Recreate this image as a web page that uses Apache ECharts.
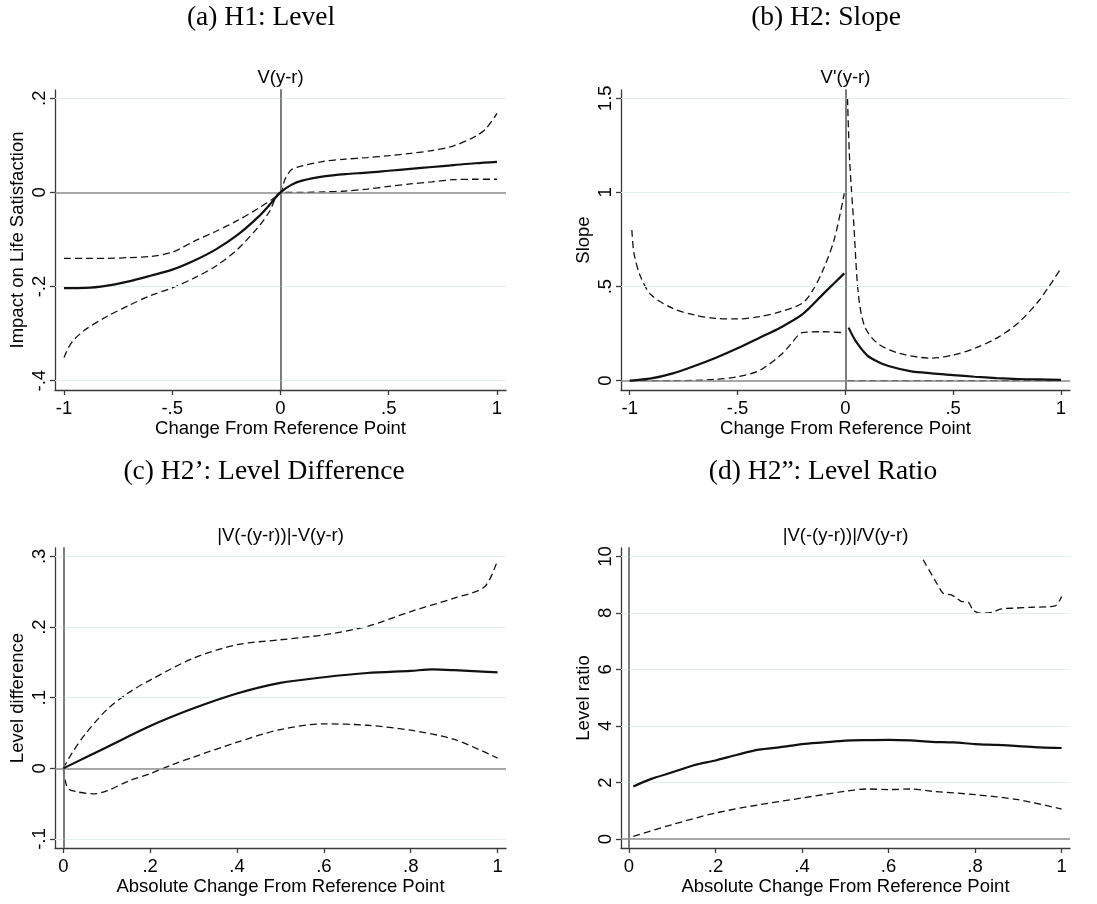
<!DOCTYPE html>
<html><head><meta charset="utf-8">
<script src="https://cdn.jsdelivr.net/npm/echarts@6/dist/echarts.min.js"></script>
<style>html,body{margin:0;padding:0;background:#fff}#c{width:1097px;height:904px}</style>
</head><body><div id="c"></div>
<script>
// ---------- Panel (a): V(y-r) ----------
const aEstX = [-1,-0.9,-0.8,-0.7,-0.6,-0.5,-0.4,-0.3,-0.2,-0.1,-0.05,0,0.05,0.1,0.2,0.3,0.4,0.5,0.6,0.7,0.8,0.9,1];
const aEst  = [-0.2035,-0.203,-0.198,-0.189,-0.177,-0.164,-0.145,-0.1215,-0.091,-0.051,-0.026,0,0.016,0.025,0.034,0.039,0.042,0.046,0.050,0.054,0.058,0.062,0.065];
const aUpX  = [-1,-0.9,-0.8,-0.7,-0.6,-0.5,-0.4,-0.3,-0.2,-0.1,0,0.02,0.05,0.1,0.2,0.3,0.4,0.5,0.6,0.7,0.8,0.9,0.95,1];
const aUp   = [-0.140,-0.140,-0.140,-0.1385,-0.136,-0.127,-0.104,-0.083,-0.060,-0.033,0,0.027,0.048,0.0565,0.066,0.0707,0.074,0.078,0.083,0.089,0.099,0.119,0.136,0.168];
const aLoX  = [-1,-0.98,-0.95,-0.9,-0.8,-0.7,-0.6,-0.5,-0.4,-0.3,-0.2,-0.1,-0.05,0,0.1,0.2,0.3,0.4,0.5,0.6,0.7,0.8,0.9,1];
const aLo   = [-0.351,-0.330,-0.311,-0.291,-0.263,-0.240,-0.219,-0.203,-0.182,-0.157,-0.1215,-0.072,-0.040,0,0,0.001,0.003,0.007,0.0127,0.018,0.0226,0.027,0.028,0.028];

// ---------- Panel (b): V'(y-r) ----------
const bEstLX = [-1,-0.9,-0.8,-0.7,-0.6,-0.5,-0.4,-0.3,-0.2,-0.1,-0.005];
const bEstL  = [0,0.012,0.039,0.078,0.122,0.172,0.227,0.283,0.352,0.464,0.570];
const bEstRX = [0.015,0.05,0.1,0.15,0.2,0.3,0.4,0.5,0.6,0.7,0.8,0.9,1];
const bEstR  = [0.282,0.207,0.136,0.101,0.078,0.051,0.039,0.030,0.021,0.014,0.009,0.007,0.004];
const bUpLX  = [-0.99,-0.98,-0.95,-0.9,-0.8,-0.7,-0.6,-0.5,-0.4,-0.3,-0.2,-0.15,-0.1,-0.05,-0.005];
const bUpL   = [0.80,0.676,0.553,0.455,0.384,0.349,0.331,0.328,0.340,0.367,0.411,0.482,0.597,0.756,0.995];
const bUpRX  = [0.01,0.02,0.04,0.06,0.09,0.15,0.25,0.4,0.5,0.6,0.7,0.8,0.9,1];
const bUpR   = [1.5,1.17,0.818,0.464,0.287,0.198,0.145,0.12,0.136,0.172,0.225,0.305,0.4285,0.597];
const bLoLX  = [-1,-0.8,-0.6,-0.5,-0.4,-0.3,-0.25,-0.2,-0.1,-0.005];
const bLoL   = [0,0,0.007,0.021,0.053,0.136,0.198,0.255,0.260,0.255];
const bLoRX  = [0.01,0.5,1];
const bLoR   = [0,0,0];

// ---------- Panel (c): |V(-(y-r))|-V(y-r) ----------
const cEstX = [0,0.05,0.1,0.2,0.3,0.4,0.5,0.6,0.7,0.8,0.85,0.9,1];
const cEst  = [0,0.015,0.03,0.060,0.085,0.106,0.121,0.129,0.135,0.138,0.140,0.139,0.136];
const cUpX  = [0,0.02,0.05,0.1,0.15,0.2,0.3,0.4,0.5,0.6,0.7,0.8,0.9,0.97,1];
const cUp   = [0,0.0217,0.048,0.083,0.107,0.125,0.156,0.175,0.182,0.189,0.201,0.222,0.241,0.257,0.295];
const cLoX  = [0,0.01,0.03,0.07,0.1,0.15,0.2,0.25,0.3,0.4,0.5,0.6,0.7,0.8,0.9,1];
const cLo   = [0,-0.028,-0.033,-0.036,-0.032,-0.018,-0.0075,0.005,0.016,0.037,0.055,0.063,0.061,0.054,0.041,0.0146];

// ---------- Panel (d): |V(-(y-r))|/V(y-r) ----------
const dEstX = [0.01,0.05,0.1,0.15,0.2,0.25,0.3,0.35,0.4,0.45,0.5,0.55,0.6,0.65,0.7,0.75,0.8,0.85,0.9,0.95,1];
const dEst  = [1.86,2.12,2.36,2.61,2.78,2.98,3.16,3.25,3.36,3.42,3.48,3.50,3.51,3.49,3.44,3.42,3.36,3.33,3.29,3.24,3.22];
const dUpX  = [0.68,0.711,0.726,0.745,0.757,0.768,0.785,0.795,0.811,0.838,0.861,0.892,0.93,0.985,1];
const dUp   = [9.88,9.06,8.70,8.64,8.53,8.41,8.37,8.11,7.99,8.02,8.14,8.17,8.20,8.25,8.58];
const dLoX  = [0.01,0.1,0.2,0.3,0.4,0.5,0.55,0.6,0.65,0.7,0.8,0.9,1];
const dLo   = [0.09,0.51,0.92,1.21,1.45,1.69,1.77,1.75,1.77,1.69,1.57,1.39,1.06];

// ---------- ticks ----------
const xTicksAB = [-1,-0.5,0,0.5,1];
const xTicksCD = [0,0.2,0.4,0.6,0.8,1];
const yTicksA = [-0.4,-0.2,0,0.2];
const yTicksB = [0,0.5,1,1.5];
const yTicksC = [-0.1,0,0.1,0.2,0.3];
const yTicksD = [0,2,4,6,8,10];

const panelTitles = ['(a) H1: Level','(b) H2: Slope','(c) H2\u2019: Level Difference','(d) H2\u201d: Level Ratio'];
const plotTitles = ['V(y-r)',"V'(y-r)",'|V(-(y-r))|-V(y-r)','|V(-(y-r))|/V(y-r)'];
const yNames = ['Impact on Life Satisfaction','Slope','Level difference','Level ratio'];
const xNames = ['Change From Reference Point','Change From Reference Point','Absolute Change From Reference Point','Absolute Change From Reference Point'];

const SANS = 'Liberation Sans, Arial, sans-serif';
const FS = 18.5;
const fmt = v => { let s = String(+(+v).toFixed(3)); return s.replace(/^(-?)0\./, '$1.'); };
const pairs = (xs, ys) => xs.map((x, i) => [x, ys[i]]);

const grids = [
  {left:55, top:90, width:451, height:300},
  {left:621, top:90, width:449, height:300},
  {left:55, top:548, width:451, height:300},
  {left:621, top:548, width:449, height:300}
];
const xRanges = [[-1.0416,1.0416],[-1.0404,1.0418],[-0.0191,1.0194],[-0.0185,1.0194]];
const yRanges = [[-0.4198,0.2176],[-0.0494,1.544],[-0.1127,0.3119],[-0.318,10.297]];
const xTicks = [xTicksAB,xTicksAB,xTicksCD,xTicksCD];
const yTicks = [yTicksA,yTicksB,yTicksC,yTicksD];

const xAxis = [], yAxis = [], series = [];
const AX = '#3a3a3a';
grids.forEach((g, i) => {
  xAxis.push({
    type:'value', gridIndex:i, min:xRanges[i][0], max:xRanges[i][1],
    name:xNames[i], nameLocation:'middle', nameGap:29,
    nameTextStyle:{fontFamily:SANS, fontSize:FS, color:'#000'},
    axisLine:{show:true, onZero:false, lineStyle:{color:AX, width:1.3}},
    axisTick:{show:true, length:5, customValues:xTicks[i], lineStyle:{color:AX, width:1.3}},
    axisLabel:{customValues:xTicks[i], formatter:fmt, fontFamily:SANS, fontSize:FS, color:'#000', margin:9},
    splitLine:{show:false}
  });
  yAxis.push({
    type:'value', gridIndex:i, min:yRanges[i][0], max:yRanges[i][1],
    name:yNames[i], nameLocation:'middle', nameGap:28,
    nameTextStyle:{fontFamily:SANS, fontSize:FS, color:'#000'},
    axisLine:{show:true, onZero:false, lineStyle:{color:AX, width:1.3}},
    axisTick:{show:true, length:5, customValues:yTicks[i], lineStyle:{color:AX, width:1.3}},
    axisLabel:{customValues:yTicks[i], formatter:fmt, rotate:90, fontFamily:SANS, fontSize:FS, color:'#000', margin:6},
    splitLine:{show:false}
  });
});
// right border axes
grids.forEach((g, i) => {
  yAxis.push({
    type:'value', gridIndex:i, position:'right', min:0, max:1,
    axisLine:{show:true, lineStyle:{color:'#222', width:1.6}},
    axisTick:{show:false}, axisLabel:{show:false}, splitLine:{show:false}
  });
});

function helper(i) {
  const gl = yTicks[i].filter(v => v !== 0).map(v => ({yAxis:v, lineStyle:{color:'#e4eef0', width:1.2, type:'solid'}}));
  gl.push({yAxis:0, lineStyle:{color:'#8a8a8a', width:1.6, type:'solid'}});
  gl.push({xAxis:0, lineStyle:{color:'#8a8a8a', width:1.6, type:'solid'}});
  return {
    type:'line', xAxisIndex:i, yAxisIndex:i, data:[[0,0]], showSymbol:false, silent:true,
    lineStyle:{opacity:0}, z:1,
    markLine:{silent:true, symbol:['none','none'], label:{show:false}, animation:false, data:gl}
  };
}
function solid(i, xs, ys) {
  return {type:'line', xAxisIndex:i, yAxisIndex:i, data:pairs(xs, ys), showSymbol:false, smooth:0.3, z:5,
    lineStyle:{color:'#111', width:2.2, type:'solid'}};
}
function dashed(i, xs, ys) {
  return {type:'line', xAxisIndex:i, yAxisIndex:i, data:pairs(xs, ys), showSymbol:false, smooth:0.3, z:4,
    lineStyle:{color:'#111', width:1.3, type:[7,4]}};
}
for (let i = 0; i < 4; i++) series.push(helper(i));
series.push(solid(0, aEstX, aEst), dashed(0, aUpX, aUp), dashed(0, aLoX, aLo));
series.push(solid(1, bEstLX, bEstL), solid(1, bEstRX, bEstR),
            dashed(1, bUpLX, bUpL), dashed(1, bUpRX, bUpR), dashed(1, bLoLX, bLoL), dashed(1, bLoRX, bLoR));
series.push(solid(2, cEstX, cEst), dashed(2, cUpX, cUp), dashed(2, cLoX, cLo));
series.push(solid(3, dEstX, dEst), dashed(3, dUpX, dUp), dashed(3, dLoX, dLo));

const graphic = [];
const titlePos = [[261,18],[826,18],[264,472],[823,472]];
panelTitles.forEach((t, i) => graphic.push({type:'text', x:titlePos[i][0], y:titlePos[i][1],
  style:{text:t, font:'27.5px "Liberation Serif", serif', fill:'#000', align:'center', verticalAlign:'middle'}}));
grids.forEach((g, i) => graphic.push({type:'text', x:g.left + g.width / 2, y:g.top - 12,
  style:{text:plotTitles[i], font:FS + 'px ' + SANS, fill:'#000', align:'center', verticalAlign:'middle'}}));

const chart = echarts.init(document.getElementById('c'), null, {renderer:'canvas'});
chart.setOption({animation:false, backgroundColor:'#fff', grid:grids, xAxis, yAxis, series, graphic});
</script></body></html>
